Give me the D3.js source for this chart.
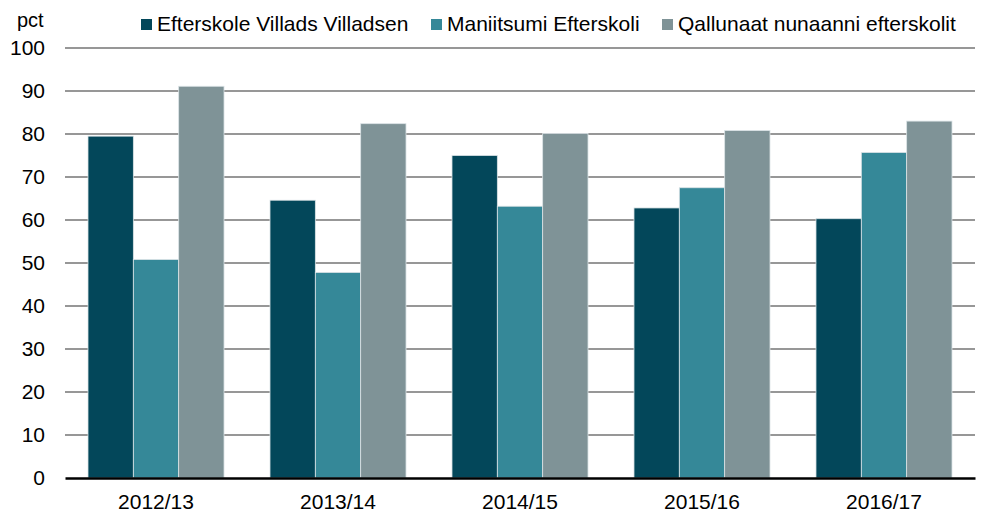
<!DOCTYPE html>
<html>
<head>
<meta charset="utf-8">
<script src="https://cdn.jsdelivr.net/npm/d3@7"></script>
<style>
  body { margin: 0; background: #fff; }
  text { font-family: "Liberation Sans", Arial, sans-serif; fill: #000; }
</style>
</head>
<body>
<div id="chart"></div>
<script>
const years = ["2012/13", "2013/14", "2014/15", "2015/16", "2016/17"];
const seriesNames = ["Efterskole Villads Villadsen", "Maniitsumi Efterskoli", "Qallunaat nunaanni efterskolit"];
const villads = [79.5, 64.6, 75.0, 62.8, 60.3];
const maniitsumi = [50.8, 47.8, 63.2, 67.5, 75.7];
const qallunaat = [91.1, 82.4, 80.1, 80.8, 83.0];
const yTicks = [0, 10, 20, 30, 40, 50, 60, 70, 80, 90, 100];
const colors = ["#03475a", "#358898", "#7f9397"];

const width = 981, height = 515;
const margin = { top: 48, right: 6, bottom: 37, left: 65 };
const FONT = 21;

const svg = d3.select("#chart").append("svg")
    .attr("width", width)
    .attr("height", height);

const x0 = d3.scaleBand()
    .domain(years)
    .range([margin.left, width - margin.right])
    .paddingInner(0.2527)
    .paddingOuter(0.1264);

const x1 = d3.scaleBand()
    .domain(d3.range(seriesNames.length))
    .range([0, x0.bandwidth()]);

const y = d3.scaleLinear()
    .domain([0, 100])
    .range([height - margin.bottom, margin.top]);

// gridlines
svg.append("g")
    .selectAll("line")
    .data(yTicks.filter(d => d > 0))
    .enter().append("line")
    .attr("x1", margin.left)
    .attr("x2", width - margin.right)
    .attr("y1", d => y(d))
    .attr("y2", d => y(d))
    .attr("stroke", "#979797")
    .attr("stroke-width", 2);

// y labels
const yAxis = svg.append("g")
    .attr("transform", `translate(${margin.left - 20},0)`)
    .call(d3.axisLeft(y).tickValues(yTicks).tickSize(0).tickPadding(0));
yAxis.select(".domain").remove();
yAxis.selectAll("text")
    .attr("font-size", FONT)
    .attr("font-family", "Liberation Sans, Arial, sans-serif")
    .attr("fill", "#000");

// bars
const rows = years.map((yr, i) => ({ year: yr, values: [villads[i], maniitsumi[i], qallunaat[i]] }));

svg.append("g")
    .selectAll("g")
    .data(rows)
    .enter().append("g")
    .attr("transform", d => `translate(${x0(d.year)},0)`)
    .selectAll("rect")
    .data(d => d.values.map((v, k) => ({ k, v })))
    .enter().append("rect")
    .attr("x", d => x1(d.k))
    .attr("width", x1.bandwidth())
    .attr("y", d => y(d.v))
    .attr("height", d => y(0) - y(d.v))
    .attr("fill", d => colors[d.k])
    .attr("stroke", "#dbe3e6")
    .attr("stroke-width", 0.8);

// x axis
const xAxis = svg.append("g")
    .attr("transform", `translate(0,${y(0)})`)
    .call(d3.axisBottom(x0).tickSize(0).tickPadding(16));
xAxis.select(".domain")
    .attr("stroke", "#000")
    .attr("stroke-width", 2.5);
xAxis.selectAll("text")
    .attr("font-size", FONT)
    .attr("font-family", "Liberation Sans, Arial, sans-serif")
    .attr("fill", "#000");

// unit label
svg.append("text")
    .attr("x", 17)
    .attr("y", 27)
    .attr("font-size", 20)
    .text("pct");

// legend
const legendX = [141, 431, 662];
const legend = svg.append("g")
    .selectAll("g")
    .data(seriesNames)
    .enter().append("g")
    .attr("transform", (d, i) => `translate(${legendX[i]},19)`);
legend.append("rect")
    .attr("width", 11)
    .attr("height", 11)
    .attr("fill", (d, i) => colors[i]);
legend.append("text")
    .attr("x", 16)
    .attr("y", 12)
    .attr("font-size", FONT)
    .text(d => d);
</script>
</body>
</html>
